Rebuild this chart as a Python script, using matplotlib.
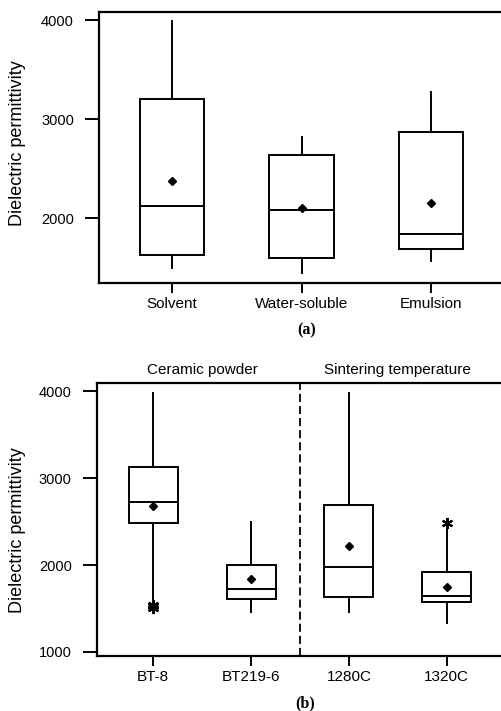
import matplotlib
matplotlib.use('Agg')
import matplotlib.pyplot as plt

plt.rcParams['font.family'] = ['Liberation Sans', 'DejaVu Sans']

# ---- panel (a): binder type ----
binders = ['Solvent', 'Water-soluble', 'Emulsion']
a_whislo = [1503, 1452, 1573]
a_q1 = [1627, 1597, 1694]
a_med = [2124, 2084, 1845]
a_q3 = [3207, 2635, 2874]
a_whishi = [3990, 2824, 3271]
a_mean = [2376, 2104, 2158]

# ---- panel (b): ceramic powder / sintering temperature ----
samples = ['BT-8', 'BT219-6', '1280C', '1320C']
b_whislo = [1565, 1463, 1464, 1336]
b_q1 = [2490, 1605, 1628, 1570]
b_med = [2724, 1730, 1981, 1647]
b_q3 = [3130, 2000, 2690, 1923]
b_whishi = [3985, 2498, 3985, 2421]
b_mean = [2686, 1845, 2215, 1748]
b_fliers = [[1505, 1525, 1545], [], [], [2490]]

group_names = ['Ceramic powder', 'Sintering temperature']


def box_stats(labels, whislo, q1, med, q3, whishi, mean, fliers=None):
    stats = []
    for i, lab in enumerate(labels):
        stats.append({'label': lab, 'whislo': whislo[i], 'q1': q1[i], 'med': med[i],
                      'q3': q3[i], 'whishi': whishi[i], 'mean': mean[i],
                      'fliers': fliers[i] if fliers else []})
    return stats


def draw_panel(ax, stats, yticks, ylim, xlim):
    lw = 1.4
    ax.bxp(stats, widths=0.5, showmeans=True, showcaps=False, patch_artist=True,
           boxprops=dict(facecolor='white', edgecolor='black', linewidth=lw),
           medianprops=dict(color='black', linewidth=lw),
           whiskerprops=dict(color='black', linewidth=lw),
           meanprops=dict(marker='D', markerfacecolor='black',
                          markeredgecolor='black', markersize=4),
           flierprops=dict(marker=(6, 2, 0), markeredgecolor='black',
                           markersize=8, markeredgewidth=1.5))
    ax.set_xlim(*xlim)
    ax.set_ylim(*ylim)
    ax.set_yticks(yticks)
    for sp in ax.spines.values():
        sp.set_linewidth(1.6)
    ax.tick_params(axis='y', length=10, width=1.4, pad=8, labelsize=10.5)
    ax.tick_params(axis='x', length=7, width=1.4, pad=3, labelsize=11)
    ax.set_ylabel('Dielectric permittivity', fontsize=13)


fig = plt.figure(figsize=(5.02, 7.11), dpi=100)

ax1 = fig.add_axes([0.1972, 0.6020, 0.807, 0.3811])
draw_panel(ax1, box_stats(binders, a_whislo, a_q1, a_med, a_q3, a_whishi, a_mean),
           [2000, 3000, 4000], (1348, 4081), (0.436, 3.564))
ax1.yaxis.set_label_coords(-0.18, 0.515)

ax2 = fig.add_axes([0.1926, 0.0774, 0.810, 0.3843])
draw_panel(ax2, box_stats(samples, b_whislo, b_q1, b_med, b_q3, b_whishi, b_mean, b_fliers),
           [1000, 2000, 3000, 4000], (954, 4100), (0.421, 4.579))
ax2.yaxis.set_label_coords(-0.174, 0.46)

# divider between the two factor groups
ax2.axvline(2.5, color='black', linestyle=(0, (4.5, 2.2)), linewidth=1.3)
tr = ax2.get_xaxis_transform()
ax2.text(1.5, 1.0465, group_names[0], transform=tr, ha='center', va='center', fontsize=11)
ax2.text(3.5, 1.0465, group_names[1], transform=tr, ha='center', va='center', fontsize=11)

fig.text(307 / 502, 1 - 330 / 711, '(a)', ha='center', va='center',
         fontsize=11.5, fontweight='bold', family=['Liberation Serif', 'DejaVu Serif'])
fig.text(305 / 502, 1 - 703 / 711, '(b)', ha='center', va='center',
         fontsize=11.5, fontweight='bold', family=['Liberation Serif', 'DejaVu Serif'])

fig.savefig('out.png', dpi=100)
